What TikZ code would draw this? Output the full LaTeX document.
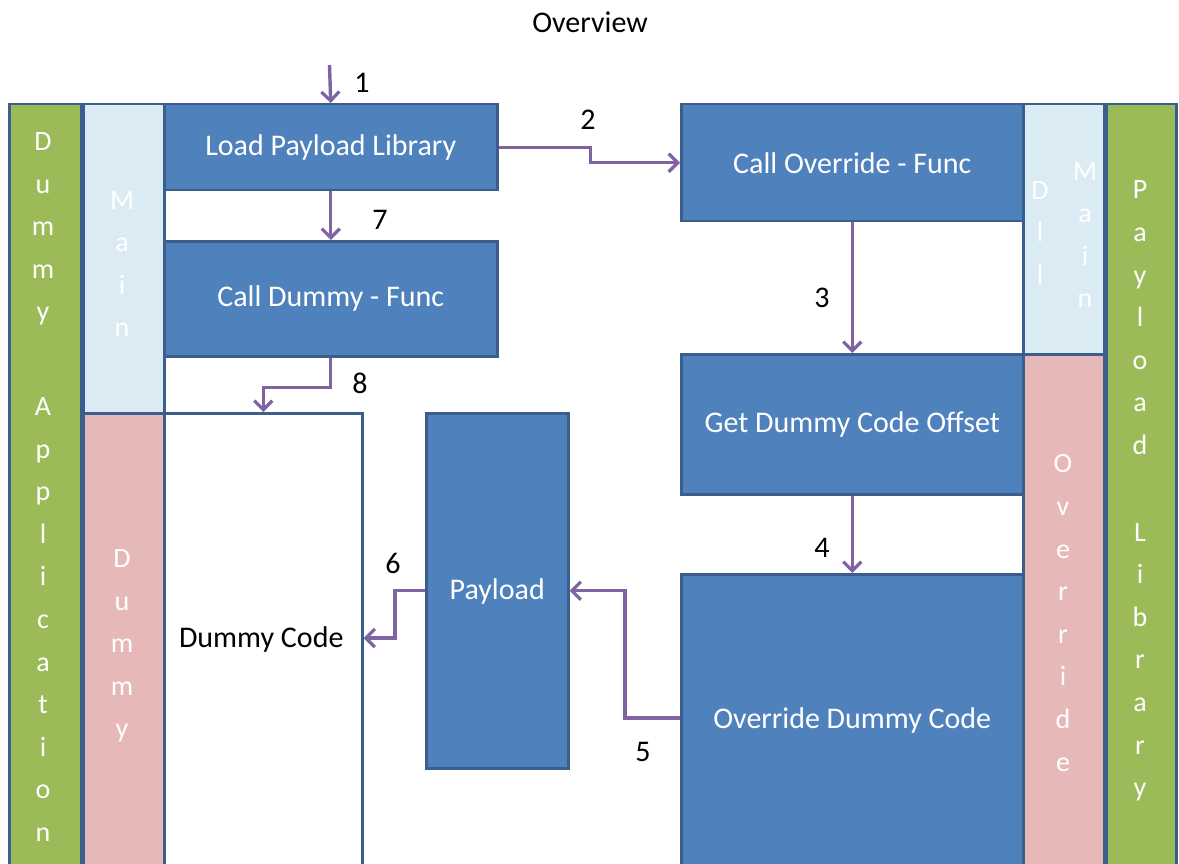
\documentclass[tikz,border=0pt]{standalone}
\usepackage{fontspec}
\setmainfont{Carlito}
\usetikzlibrary{arrows.meta,calc}
\definecolor{boxblue}{HTML}{4F81BD}
\definecolor{edgeblue}{HTML}{3B5E8C}
\definecolor{appgreen}{HTML}{9BBB59}
\definecolor{mainblue}{HTML}{DAEBF3}
\definecolor{pinkcol}{HTML}{E6B9B8}
\definecolor{flow}{HTML}{8064A2}
\begin{document}
\begin{tikzpicture}[x=1pt,y=-1pt,
  region/.style={draw=edgeblue,line width=2.5pt,anchor=north west,inner sep=0pt},
  stepbox/.style={region,fill=boxblue},
  boxtext/.style={text=white,font=\fontsize{30}{36}\selectfont,inner sep=0pt},
  vtext/.style={font=\fontsize{28}{42.6}\selectfont,align=center,text=white,inner sep=0pt},
  num/.style={font=\fontsize{30}{36}\selectfont,text=black,inner sep=0pt},
  flowline/.style={draw=flow,line width=3.4pt,-{Straight Barb[length=9pt,width=18pt,line width=3.2pt]}}
]
\useasboundingbox (0,0) rectangle (1179,864);

% title
\node[num] (title) at (590,22) {Overview};

% left side columns
\node[region,fill=appgreen,minimum width=72,minimum height=775] (appcol) at (8,103) {};
\node[region,fill=mainblue,minimum width=81,minimum height=309] (maincol) at (82,103) {};
\node[region,fill=pinkcol,minimum width=81,minimum height=466] (dummycol) at (82,412) {};

\node[vtext] (apptxt) at (43,487) {D\\u\\m\\m\\y\\[52pt]A\\p\\p\\l\\i\\c\\a\\t\\i\\o\\n};
\node[vtext] (maintxt) at (122,264) {M\\a\\i\\n};
\node[vtext] (dummytxt) at (122,646) {D\\u\\m\\m\\y};

% right side columns
\node[region,fill=appgreen,minimum width=70,minimum height=775] (plcol) at (1105,103) {};
\node[region,fill=mainblue,minimum width=81,minimum height=250] (dllcol) at (1022,103) {};
\node[region,fill=pinkcol,minimum width=81,minimum height=525] (ovcol) at (1022,353) {};

\node[vtext] (pltxt) at (1140,491) {P\\a\\y\\l\\o\\a\\d\\[44pt]L\\i\\b\\r\\a\\r\\y};
\node[vtext] (dlltxt) at (1040,233) {D\\l\\l};
\node[vtext] (dmaintxt) at (1085,235) {M\\a\\i\\n};
\node[vtext] (ovtxt) at (1063,613) {O\\v\\e\\r\\r\\i\\d\\e};

% main boxes
\node[stepbox,minimum width=333,minimum height=86] (load) at (163,103) {};
\node[boxtext] at (load.center) {Load Payload Library};
\node[stepbox,minimum width=333,minimum height=115] (calld) at (163,240) {};
\node[boxtext] at (calld.center) {Call Dummy - Func};
\node[region,fill=white,minimum width=198,minimum height=466] (dcode) at (163,412) {};
\node[boxtext,text=black] at ($(dcode.north)+(-2,227)$) {Dummy Code};
\node[stepbox,minimum width=142,minimum height=355] (payload) at (425,412) {};
\node[boxtext] at ($(payload.north)+(0,179)$) {Payload};

\node[stepbox,minimum width=342,minimum height=117] (callo) at (680,103) {};
\node[boxtext] at (callo.center) {Call Override - Func};
\node[stepbox,minimum width=342,minimum height=140] (getd) at (680,353) {};
\node[boxtext] at (getd.center) {Get Dummy Code Offset};
\node[stepbox,minimum width=342,minimum height=305] (ovd) at (680,573) {};
\node[boxtext] at ($(ovd.north)+(0,147)$) {Override Dummy Code};

% connectors
\coordinate (start) at (329.5,65);
\draw[flowline] (start) -- (load.north);
\draw[flowline] (load.east) -- ++(92,0) |- (callo.west);
\draw[flowline] (load.south) -- (calld.north);
\draw[flowline] (calld.south) -- ++(0,30) -| (dcode.north);
\draw[flowline] (callo.south) -- (getd.north);
\draw[flowline] (getd.south) -- (ovd.north);
\draw[flowline] ($(ovd.north west)+(0,145)$) -- ++(-55,0) |- (payload.east);
\draw[flowline] (payload.west) -- ++(-30,0) |- ($(dcode.north east)+(0,226)$);

% step numbers
\node[num] (n1) at (362,83) {1};
\node[num] (n2) at (588,120) {2};
\node[num] (n3) at (822,298) {3};
\node[num] (n4) at (822,548) {4};
\node[num] (n5) at (643,752) {5};
\node[num] (n6) at (393,563) {6};
\node[num] (n7) at (380,220) {7};
\node[num] (n8) at (360,383) {8};
\end{tikzpicture}
\end{document}
